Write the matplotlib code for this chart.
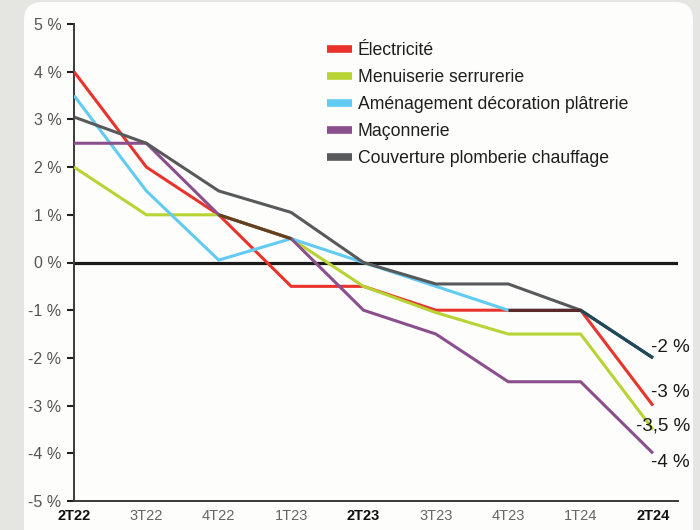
import matplotlib
matplotlib.use("Agg")
import matplotlib.pyplot as plt
from matplotlib.lines import Line2D
from matplotlib.patches import FancyBboxPatch
from matplotlib.colors import to_rgb

plt.rcParams["font.family"] = ["Liberation Sans", "DejaVu Sans"]

quarters = ["2T22", "3T22", "4T22", "1T23", "2T23", "3T23", "4T23", "1T24", "2T24"]
bold_quarters = ["2T22", "2T23", "2T24"]

series_names = [
    "Électricité",
    "Menuiserie serrurerie",
    "Aménagement décoration plâtrerie",
    "Maçonnerie",
    "Couverture plomberie chauffage",
]
electricite = [4, 2, 1, -0.5, -0.5, -1, -1, -1, -3]
menuiserie = [2, 1, 1, 0.5, -0.5, -1.05, -1.5, -1.5, -3.5]
amenagement = [3.5, 1.5, 0.05, 0.5, 0, -0.5, -1, -1, -2]
maconnerie = [2.5, 2.5, 1, 0.5, -1, -1.5, -2.5, -2.5, -4]
couverture = [3.05, 2.5, 1.5, 1.05, 0, -0.45, -0.45, -1, -2]

colors = ["#e8342c", "#b7d334", "#62cbf1", "#8a4f8c", "#58595b"]
# which series get a value label at the last quarter, and the label nudge (px)
end_labelled = [True, True, False, True, True]
label_nudge = [13, 3, 0, -9, 10]

all_series = [electricite, menuiserie, amenagement, maconnerie, couverture]

W, H = 700, 530
fig = plt.figure(figsize=(W / 100, H / 100), dpi=100)
fig.patch.set_facecolor("#e5e6e1")

# rounded white card behind the chart
bg = fig.add_axes([0, 0, 1, 1], zorder=0)
bg.set_xlim(0, W)
bg.set_ylim(H, 0)
bg.axis("off")
bg.add_patch(FancyBboxPatch((24, 2), 669, 560, boxstyle="round,pad=0,rounding_size=18",
                            facecolor="#fdfdfc", edgecolor="none"))

ax = fig.add_axes([74 / W, (H - 501) / H, 604 / W, 477 / H], zorder=1)
ax.patch.set_alpha(0)
x = list(range(len(quarters)))
ax.set_xlim(0, (678 - 74) / 72.375)
ax.set_ylim(-5, 5)

ax.axhline(0, color="#1a1a1a", linewidth=2.3, zorder=2)

for vals, color in zip(all_series, colors):
    ax.plot(x, vals, color=color, linewidth=2.2, solid_capstyle="butt",
            solid_joinstyle="miter", zorder=3)

# segments shared by several series are drawn with the colours multiplied
for i in range(len(quarters) - 1):
    groups = {}
    for vals, color in zip(all_series, colors):
        groups.setdefault((vals[i], vals[i + 1]), []).append(color)
    for (y0, y1), cols in groups.items():
        if len(cols) > 1:
            r, g, b = 1.0, 1.0, 1.0
            for c in cols:
                cr, cg, cb = to_rgb(c)
                r, g, b = r * cr, g * cg, b * cb
            ax.plot([i, i + 1], [y0, y1], color=(r, g, b), linewidth=2.2,
                    solid_capstyle="butt", zorder=4)

for vals, show, nudge in zip(all_series, end_labelled, label_nudge):
    if not show:
        continue
    last = vals[-1]
    text = (f"{last:g} %").replace(".", ",")
    ax.annotate(text, xy=(x[-1], last), xytext=(37 * 0.72, nudge * 0.72),
                textcoords="offset points", ha="right", va="center",
                fontsize=13.5, color="#1a1a1a", annotation_clip=False, zorder=5)

ax.set_yticks(range(-5, 6))
ax.set_yticklabels([f"{v} %" for v in range(-5, 6)], fontsize=11.5, color="#555555")
ax.set_xticks(x)
ax.set_xticklabels(quarters, fontsize=10.5)
for lbl in ax.get_xticklabels():
    if lbl.get_text() in bold_quarters:
        lbl.set_fontweight("bold")
        lbl.set_color("#111111")
    else:
        lbl.set_color("#666666")
ax.tick_params(axis="y", direction="out", length=5, width=1.5, color="#222222", pad=4)
ax.tick_params(axis="x", length=0, pad=6)

for side in ["top", "right"]:
    ax.spines[side].set_visible(False)
for side in ["left", "bottom"]:
    ax.spines[side].set_color("#3a3a3a")
    ax.spines[side].set_linewidth(1.4)

handles = [Line2D([0], [0], color=c, linewidth=5.5, solid_capstyle="butt") for c in colors]
leg = ax.legend(handles, series_names, loc="upper left",
                bbox_to_anchor=((327 - 74) / 604, (501 - 42) / 477),
                frameon=False, fontsize=12.7, handlelength=1.42, handletextpad=0.33,
                labelspacing=0.57, borderpad=0, borderaxespad=0)
for t in leg.get_texts():
    t.set_color("#1e1e1e")

fig.savefig("out.png", dpi=100, facecolor=fig.get_facecolor())
